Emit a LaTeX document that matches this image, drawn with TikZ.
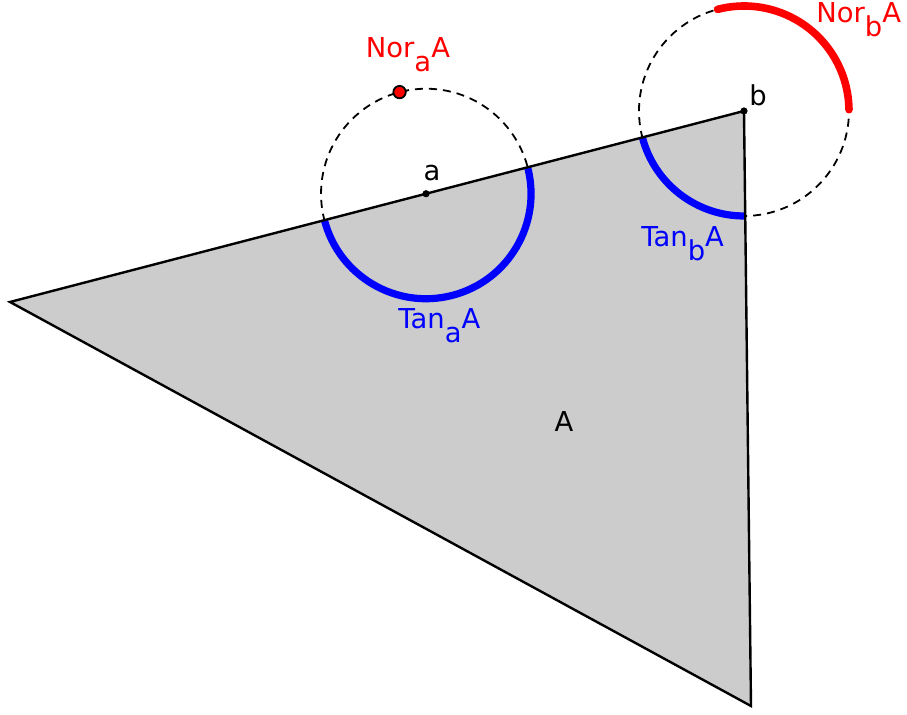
\documentclass[tikz,border=0pt]{standalone}
\usepackage{fontspec}
\setmainfont{DejaVu Sans}
\usepackage{tikz}
\usetikzlibrary{calc}
\definecolor{tanblue}{HTML}{0000FF}
\definecolor{norred}{HTML}{FF0000}
\definecolor{setgray}{HTML}{CCCCCC}
\newcommand{\lowsub}[1]{\raisebox{-0.5em}{#1}}
\tikzset{
  lbl/.style={inner sep=0pt,font=\fontsize{13.7}{16}\selectfont,text=#1},
  lbl/.default={black},
  edge/.style={draw=black,line width=1.2pt},
  dashcirc/.style={draw=black,line width=0.9pt,dash pattern=on 4pt off 3pt},
  tanarc/.style={draw=tanblue,line width=3.6pt},
  norarc/.style={draw=norred,line width=3.8pt,line cap=round},
  ptdot/.style={circle,fill=black,inner sep=0pt,minimum size=3.6pt},
  nordot/.style={circle,fill=norred,draw=black,line width=0.9pt,inner sep=0pt,minimum size=6.2pt},
}
\begin{document}
\begin{tikzpicture}[x=0.5pt,y=0.5pt]
  \fill[white] (0,0) rectangle (907,715);
  \useasboundingbox (0,0) rectangle (907,715);
  \coordinate (L) at (10,413);
  \coordinate (b) at (744,604);
  \coordinate (C) at (751,9);
  \coordinate (a) at ($(L)!0.5668!(b)$);
  \fill[setgray] (L) -- (b) -- (C) -- cycle;
  \draw[dashcirc] (a) circle[radius=105];
  \draw[dashcirc] (b) circle[radius=105];
  \draw[tanarc] ($(a)+(194.6:105)$) arc[start angle=194.6,end angle=374.6,radius=105];
  \draw[tanarc] ($(b)+(194.6:105)$) arc[start angle=194.6,end angle=270.7,radius=105];
  \draw[norarc] ($(b)+(0.7:105)$) arc[start angle=0.7,end angle=104.6,radius=105];
  \draw[edge] (L) -- (b) -- (C) -- cycle;
  \node[ptdot] (adot) at (a) {};
  \node[ptdot] (bdot) at (b) {};
  \node[nordot] (nora) at ($(a)+(104.6:105)$) {};
  \node[lbl,anchor=base] (alabel) at (432,534) {a};
  \node[lbl,anchor=base] (blabel) at (758,609) {b};
  \node[lbl=norred,anchor=base] (noralabel) at (408,657) {Nor\lowsub{a}A};
  \node[lbl=norred,anchor=base west] (norblabel) at (816,692) {Nor\lowsub{b}A};
  \node[lbl=tanblue,anchor=base west] (tanalabel) at (398,386) {Tan\lowsub{a}A};
  \node[lbl=tanblue,anchor=base west] (tanblabel) at (641,468) {Tan\lowsub{b}A};
  \node[lbl,anchor=base] (setlabel) at (564,283) {A};
\end{tikzpicture}
\end{document}
